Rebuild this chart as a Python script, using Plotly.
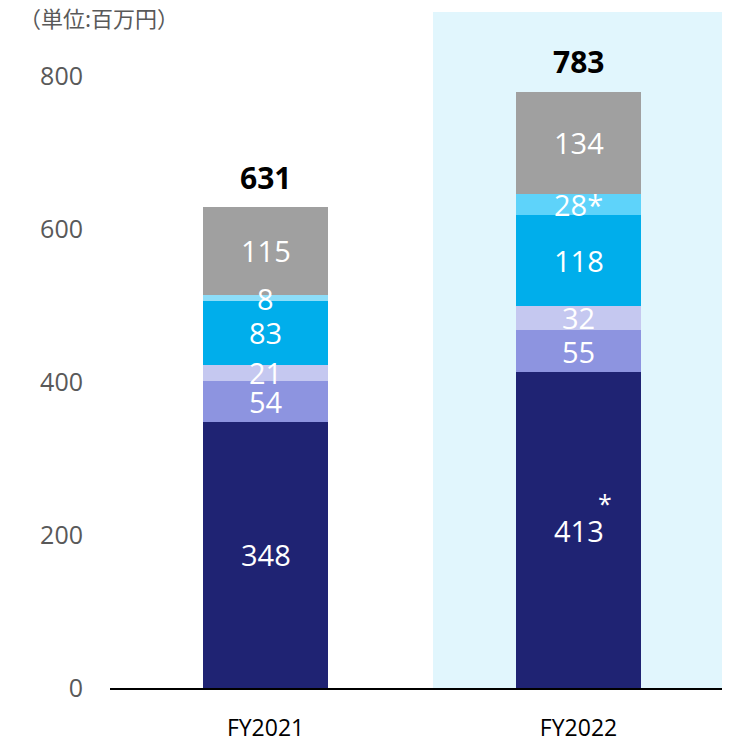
import plotly.graph_objects as go

categories = ["FY2021", "FY2022"]
seg_names = ["s1", "s2", "s3", "s4", "s5", "s6"]
seg_values = [
    [348, 413],
    [54, 55],
    [21, 32],
    [83, 118],
    [8, 28],
    [115, 134],
]
seg_labels = [
    ["348", "413"],
    ["54", "55"],
    ["21", "32"],
    ["83", "118"],
    ["8", "28*"],
    ["115", "134"],
]
totals = [631, 783]
seg_colors = [
    ["#1F2373", "#1F2373"],
    ["#8D94E0", "#8D94E0"],
    ["#C5C8F0", "#C5C8F0"],
    ["#00AEEB", "#00AEEB"],
    ["#8DDDF8", "#5ED3FA"],
    ["#A0A0A0", "#A0A0A0"],
]
yticks = [0, 200, 400, 600, 800]

FONT = "Open Sans, Noto Sans, sans-serif"
xs = [0, 1]

fig = go.Figure()
for i, name in enumerate(seg_names):
    fig.add_trace(go.Bar(
        x=xs, y=seg_values[i], name=name, width=0.4,
        marker=dict(color=seg_colors[i], line=dict(width=0)),
        hoverinfo="skip", showlegend=False,
    ))

annotations = []
for j, x in enumerate(xs):
    base = 0
    for i in range(len(seg_names)):
        v = seg_values[i][j]
        annotations.append(dict(
            x=x, y=base + v / 2, xref="x", yref="y", text=seg_labels[i][j],
            showarrow=False, font=dict(family=FONT, size=29, color="white"),
        ))
        base += v
    annotations.append(dict(
        x=x, y=totals[j], xref="x", yref="y", text="<b>%d</b>" % totals[j],
        showarrow=False, yanchor="bottom", yshift=5,
        font=dict(family=FONT, size=30, color="black"),
    ))

# asterisk on 413
annotations.append(dict(
    x=1, y=seg_values[0][1] / 2, xref="x", yref="y", text="*",
    showarrow=False, xshift=26, yshift=27,
    font=dict(family=FONT, size=25, color="white"),
))

annotations.append(dict(
    x=-0.150, y=1.0, xref="paper", yref="paper", text="（単位:百万円）",
    showarrow=False, xanchor="left", yanchor="middle", yshift=-5,
    font=dict(family="Noto Sans CJK JP, sans-serif", size=22, color="#595959"),
))

fig.update_layout(
    width=722, height=734,
    margin=dict(l=102, r=0, t=4, b=54),
    barmode="stack",
    plot_bgcolor="white", paper_bgcolor="white",
    annotations=annotations,
    shapes=[dict(
        type="rect", xref="x", yref="paper", x0=0.535, x1=1.474, y0=0.0, y1=1.0,
        fillcolor="#E1F6FD", line=dict(width=0), layer="below",
    )],
    xaxis=dict(
        range=[-0.497, 1.484], tickvals=xs, ticktext=categories,
        showline=True, linecolor="black", linewidth=2, showgrid=False,
        ticks="", ticklabelstandoff=18,
        tickfont=dict(family=FONT, size=23, color="black"), zeroline=False,
    ),
    yaxis=dict(
        range=[0, 884], tickvals=yticks, showgrid=False, zeroline=False,
        showline=False, ticks="", ticklabelstandoff=26,
        tickfont=dict(family=FONT, size=25, color="#595959"),
    ),
)

fig.write_html("out.html")
